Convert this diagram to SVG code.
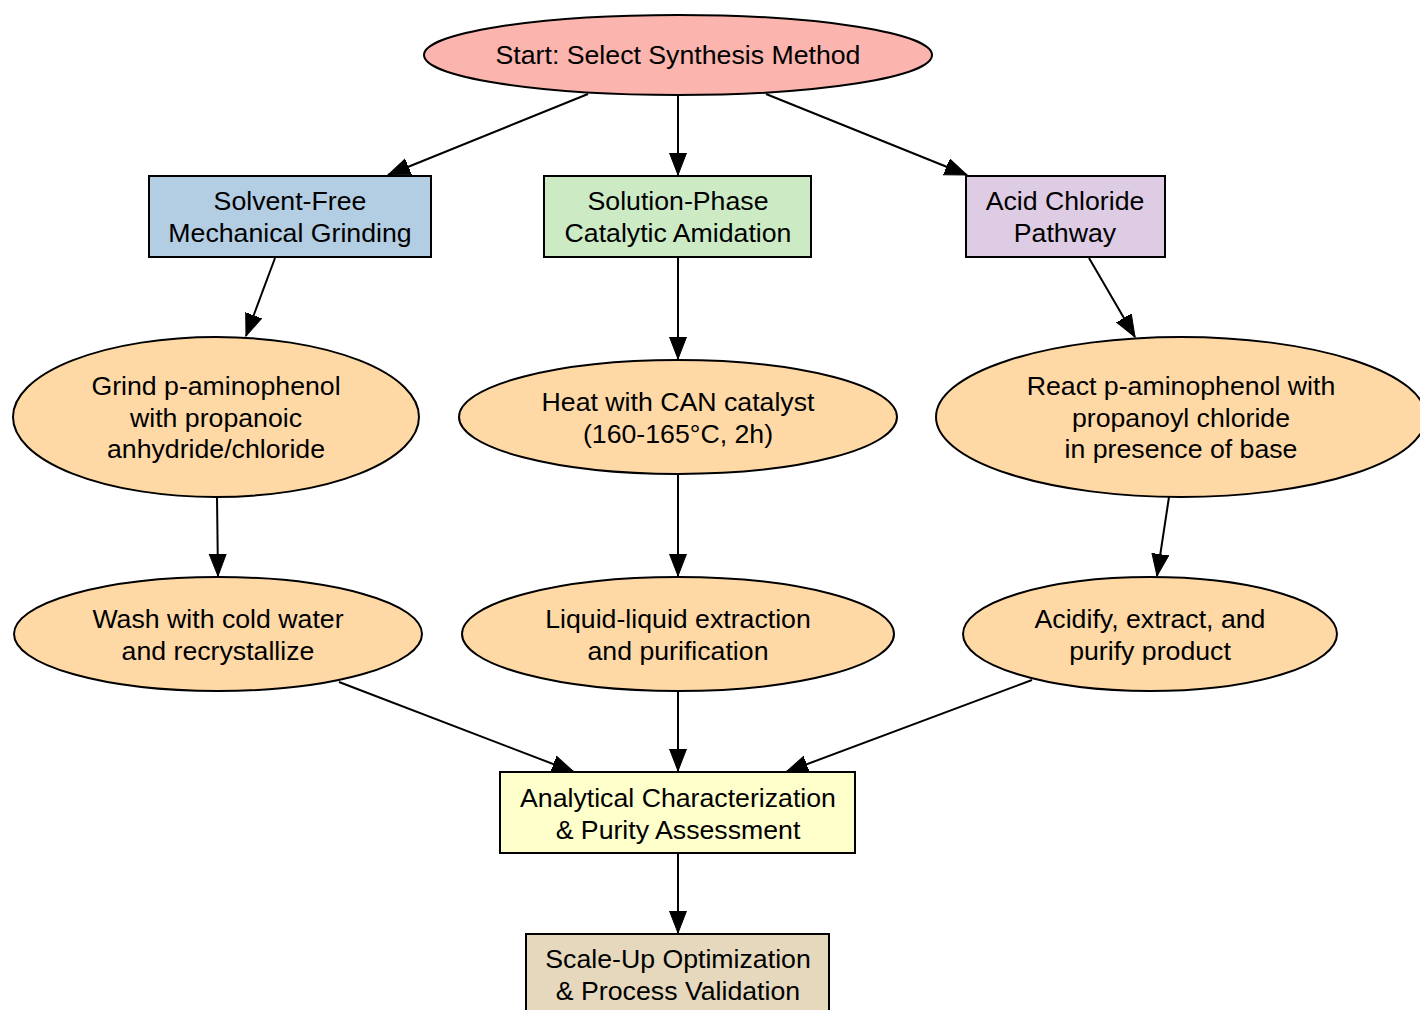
<svg xmlns="http://www.w3.org/2000/svg" width="1420" height="1010" viewBox="0 0 1420 1010">
<style>
  .n { stroke: #000; stroke-width: 2; }
  .t { font-family: "Liberation Sans", Arial, sans-serif; font-size: 26.7px; fill: #000; text-anchor: middle; }
  .e { stroke: #000; stroke-width: 2; fill: none; }
</style>
<defs>
  <marker id="arr" markerUnits="userSpaceOnUse" markerWidth="24" markerHeight="20" refX="22" refY="9" orient="auto">
    <path d="M0,0.5 L22,9 L0,17.5 Z" fill="#000" stroke="#000" stroke-width="1"/>
  </marker>
</defs>
<rect width="1420" height="1010" fill="#fff"/>
<g id="connectors">
  <line class="e" x1="588" y1="94" x2="388" y2="175" marker-end="url(#arr)"/>
  <line class="e" x1="678" y1="96" x2="678" y2="175" marker-end="url(#arr)"/>
  <line class="e" x1="766" y1="94" x2="967" y2="175" marker-end="url(#arr)"/>
  <line class="e" x1="275" y1="258" x2="246" y2="336" marker-end="url(#arr)"/>
  <line class="e" x1="678" y1="258" x2="678" y2="359" marker-end="url(#arr)"/>
  <line class="e" x1="1089" y1="258" x2="1135" y2="337" marker-end="url(#arr)"/>
  <line class="e" x1="217" y1="497" x2="218" y2="576" marker-end="url(#arr)"/>
  <line class="e" x1="678" y1="475" x2="678" y2="576" marker-end="url(#arr)"/>
  <line class="e" x1="1169" y1="497" x2="1157" y2="576" marker-end="url(#arr)"/>
  <line class="e" x1="339" y1="682" x2="574" y2="772" marker-end="url(#arr)"/>
  <line class="e" x1="678" y1="692" x2="678" y2="771" marker-end="url(#arr)"/>
  <line class="e" x1="1032" y1="680" x2="786" y2="772" marker-end="url(#arr)"/>
  <line class="e" x1="678" y1="854" x2="678" y2="933" marker-end="url(#arr)"/>
</g>
<g id="start">
  <ellipse class="n" cx="678" cy="55" rx="254" ry="40" fill="#fbb4ae"/>
  <text class="t" x="678" y="64">Start: Select Synthesis Method</text>
</g>
<g id="solvent_free">
  <rect class="n" x="149" y="176" width="282" height="81" fill="#b3cde3"/>
  <text class="t" x="290" y="210">Solvent-Free</text>
  <text class="t" x="290" y="242">Mechanical Grinding</text>
</g>
<g id="solution_phase">
  <rect class="n" x="544" y="176" width="267" height="81" fill="#ccebc5"/>
  <text class="t" x="678" y="210">Solution-Phase</text>
  <text class="t" x="678" y="242">Catalytic Amidation</text>
</g>
<g id="acid_chloride">
  <rect class="n" x="966" y="176" width="199" height="81" fill="#decbe4"/>
  <text class="t" x="1065" y="210">Acid Chloride</text>
  <text class="t" x="1065" y="242">Pathway</text>
</g>
<g id="grind">
  <ellipse class="n" cx="216" cy="417" rx="203" ry="80" fill="#fed9a6"/>
  <text class="t" x="216" y="395">Grind p-aminophenol</text>
  <text class="t" x="216" y="427">with propanoic</text>
  <text class="t" x="216" y="458">anhydride/chloride</text>
</g>
<g id="heat">
  <ellipse class="n" cx="678" cy="417" rx="219" ry="57" fill="#fed9a6"/>
  <text class="t" x="678" y="411">Heat with CAN catalyst</text>
  <text class="t" x="678" y="443">(160-165°C, 2h)</text>
</g>
<g id="react">
  <ellipse class="n" cx="1181" cy="417" rx="245" ry="80" fill="#fed9a6"/>
  <text class="t" x="1181" y="395">React p-aminophenol with</text>
  <text class="t" x="1181" y="427">propanoyl chloride</text>
  <text class="t" x="1181" y="458">in presence of base</text>
</g>
<g id="wash">
  <ellipse class="n" cx="218" cy="634" rx="204" ry="57" fill="#fed9a6"/>
  <text class="t" x="218" y="628">Wash with cold water</text>
  <text class="t" x="218" y="660">and recrystallize</text>
</g>
<g id="extraction">
  <ellipse class="n" cx="678" cy="634" rx="216" ry="57" fill="#fed9a6"/>
  <text class="t" x="678" y="628">Liquid-liquid extraction</text>
  <text class="t" x="678" y="660">and purification</text>
</g>
<g id="acidify">
  <ellipse class="n" cx="1150" cy="634" rx="187" ry="57" fill="#fed9a6"/>
  <text class="t" x="1150" y="628">Acidify, extract, and</text>
  <text class="t" x="1150" y="660">purify product</text>
</g>
<g id="analytical">
  <rect class="n" x="500" y="772" width="355" height="81" fill="#ffffcc"/>
  <text class="t" x="678" y="807">Analytical Characterization</text>
  <text class="t" x="678" y="839">&amp; Purity Assessment</text>
</g>
<g id="scaleup">
  <rect class="n" x="526" y="934" width="303" height="81" fill="#e5d8bd"/>
  <text class="t" x="678" y="968">Scale-Up Optimization</text>
  <text class="t" x="678" y="1000">&amp; Process Validation</text>
</g>
</svg>
